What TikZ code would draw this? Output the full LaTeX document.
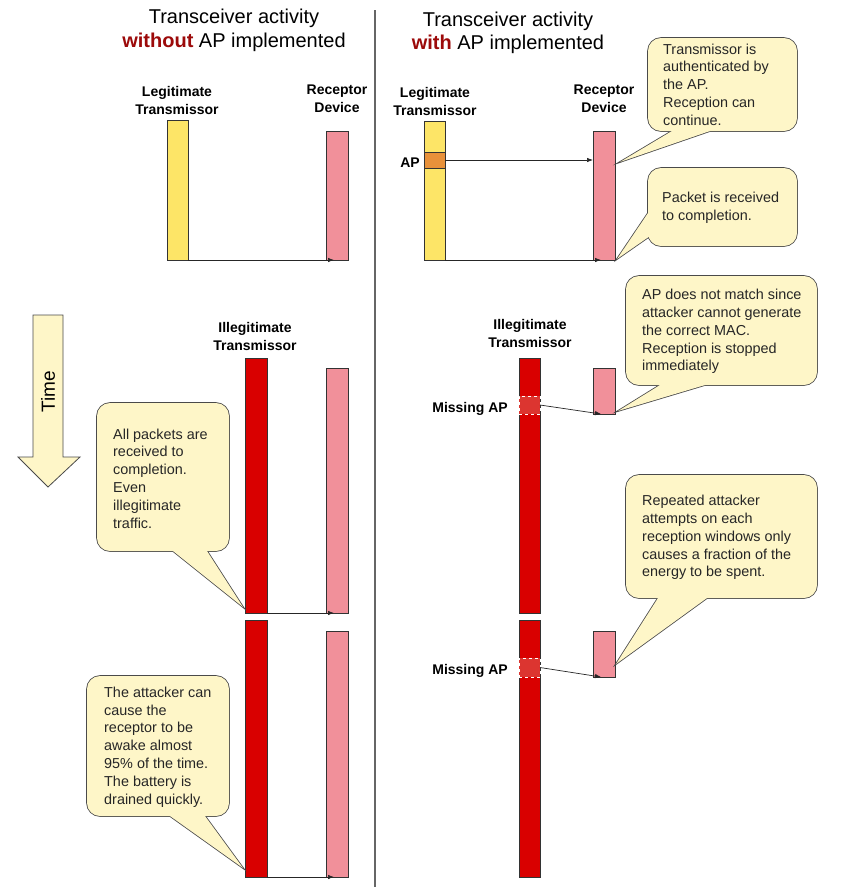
\documentclass[tikz,border=0pt]{standalone}
\usepackage{fontspec}
\setmainfont{Liberation Sans}
\usetikzlibrary{arrows.meta,calc}
\definecolor{barY}{HTML}{FDE567}
\definecolor{barP}{HTML}{F1909A}
\definecolor{barR}{HTML}{D90000}
\definecolor{apO}{HTML}{E8913A}
\definecolor{maR}{HTML}{DC3530}
\definecolor{callY}{HTML}{FEF6C8}
\definecolor{titleR}{HTML}{9C0A0A}
\definecolor{outl}{HTML}{4A4A4A}
\newcommand\DrawCallout[4]{%
  \draw[draw=outl, line width=1.6pt, rounded corners=13pt] (#1.south west) rectangle (#1.north east);
  \draw[draw=outl, line width=1.6pt, line join=miter] (#2) -- ($(#2)!1.1!(#3)$) -- ($(#2)!1.1!(#4)$) -- cycle;
  \fill[callY, rounded corners=13pt] (#1.south west) rectangle (#1.north east);
  \fill[callY] (#2) -- ($(#2)!1.1!(#3)$) -- ($(#2)!1.1!(#4)$) -- cycle;
}
\begin{document}
\begin{tikzpicture}[x=1pt,y=-1pt,
  bar/.style={draw=black!80, line width=0.6pt, inner sep=0pt, outer sep=0pt, anchor=north west},
  ybar/.style={bar, fill=barY},
  pbar/.style={bar, fill=barP},
  rbar/.style={bar, fill=barR},
  obar/.style={bar, fill=apO},
  mbar/.style={bar, draw=white, dashed, fill=maR},
  cbox/.style={draw=none, inner sep=0pt, outer sep=0pt, anchor=north west},
  lbl/.style={font=\fontsize{14}{18}\selectfont\bfseries, align=center, inner sep=0pt},
  ctext/.style={font=\fontsize{14.4}{17.8}\selectfont, align=left, inner sep=0pt, text=black!85, anchor=west},
  ttl/.style={font=\fontsize{20}{24}\selectfont, inner sep=0pt},
  conn/.style={-{Latex[length=6pt,width=4.5pt]}, draw=black!85, line width=0.7pt}]
\fill[white] (0,0) rectangle (842,887);
\useasboundingbox (0,0) rectangle (842,887);

% divider
\coordinate (dtop) at (375,10);
\coordinate (dbot) at (375,887);
\draw[black!60, line width=1.3pt] (dtop) -- (dbot);

% titles
\node[ttl, anchor=base] (tl1) at (234,23) {Transceiver activity};
\node[ttl, anchor=base] (tl2) at (234,47) {\textcolor{titleR}{\bfseries without} AP implemented};
\node[ttl, anchor=base] (tr1) at (508,26) {Transceiver activity};
\node[ttl, anchor=base] (tr2) at (508,49) {\textcolor{titleR}{\bfseries with} AP implemented};

% labels
\node[lbl] (l1) at (177,100) {Legitimate\\Transmissor};
\node[lbl] (l2) at (337,99) {Receptor\\Device};
\node[lbl] (l3) at (435,101) {Legitimate\\Transmissor};
\node[lbl] (l4) at (604,99) {Receptor\\Device};
\node[lbl] (l5) at (255,336) {Illegitimate\\Transmissor};
\node[lbl] (l6) at (530,333) {Illegitimate\\Transmissor};
\node[lbl, anchor=base east] (lap) at (420,167) {AP};
\node[lbl, anchor=base east] (lm1) at (508,412) {Missing AP};
\node[lbl, anchor=base east] (lm2) at (508,674) {Missing AP};

% time arrow
\draw[draw=outl, fill=callY, line width=0.8pt] (33,315) -- (63,315) -- (63,457) -- (80,457) -- (48,487) -- (18,457) -- (33,457) -- cycle;
\node[ttl, font=\fontsize{19}{22}\selectfont, rotate=90] (time) at (48,392) {Time};

% bars top-left
\node[ybar, minimum width=21, minimum height=140] (lt1) at (167,120) {};
\node[pbar, minimum width=22, minimum height=129] (rd1) at (326,131) {};
\draw[conn] (lt1.south east) -- ([xshift=8pt]rd1.south west);

% bars top-right
\node[ybar, minimum width=21, minimum height=139] (lt2) at (424,121) {};
\node[obar, minimum width=21, minimum height=16] (ap2) at (424,152) {};
\node[pbar, minimum width=22, minimum height=129] (rd2) at (593,131) {};
\draw[conn] (ap2.east) -- (rd2.west |- ap2.east);
\draw[conn] (lt2.south east) -- ([xshift=8pt]rd2.south west);

% bars middle-left
\node[rbar, minimum width=22, minimum height=255] (it1) at (245,358) {};
\node[pbar, minimum width=22, minimum height=245] (rp3) at (326,368) {};
\draw[conn] (it1.south east) -- ([xshift=8pt]rp3.south west);

% bars bottom-left
\node[rbar, minimum width=22, minimum height=257] (it2) at (245,620) {};
\node[pbar, minimum width=22, minimum height=246] (rp4) at (326,631) {};
\draw[conn] (it2.south east) -- ([xshift=8pt]rp4.south west);

% bars middle-right
\node[rbar, minimum width=21, minimum height=255] (it3) at (519,358) {};
\node[mbar, minimum width=21, minimum height=18] (ma3) at (519,396) {};
\node[pbar, minimum width=22, minimum height=46] (rp5) at (593,368) {};
\draw[conn] (ma3.east) -- ([xshift=8pt]rp5.south west);

% bars bottom-right
\node[rbar, minimum width=21, minimum height=257] (it4) at (519,620) {};
\node[mbar, minimum width=21, minimum height=19] (ma4) at (519,658) {};
\node[pbar, minimum width=22, minimum height=46] (rp6) at (593,631) {};
\draw[conn] (ma4.east) -- ([xshift=8pt]rp6.south west);

% callouts
\node[cbox, minimum width=149, minimum height=93] (c1) at (648,38) {};
\coordinate (t1) at (620,162); \coordinate (b1a) at (672,131); \coordinate (b1b) at (710,131);
\DrawCallout{c1}{t1}{b1a}{b1b}
\node[ctext] (x1) at (663,84.5) {Transmissor is\\authenticated by\\the AP.\\Reception can\\continue.};

\node[cbox, minimum width=149, minimum height=78] (c2) at (648,168) {};
\coordinate (t2) at (617,259); \coordinate (b2a) at (648,213); \coordinate (b2b) at (650,236);
\DrawCallout{c2}{t2}{b2a}{b2b}
\node[ctext] (x2) at (662,207.5) {Packet is received\\to completion.};

\node[cbox, minimum width=191, minimum height=109] (c3) at (626,276) {};
\coordinate (t3) at (618,411); \coordinate (b3a) at (660,385); \coordinate (b3b) at (705,385);
\DrawCallout{c3}{t3}{b3a}{b3b}
\node[ctext] (x3) at (642,331.5) {AP does not match since\\attacker cannot generate\\the correct MAC.\\Reception is stopped\\immediately};

\node[cbox, minimum width=191, minimum height=123] (c4) at (626,475) {};
\coordinate (t4) at (616,664); \coordinate (b4a) at (658,598); \coordinate (b4b) at (707,598);
\DrawCallout{c4}{t4}{b4a}{b4b}
\node[ctext] (x4) at (642,537.5) {Repeated attacker\\attempts on each\\reception windows only\\causes a fraction of the\\energy to be spent.};

\node[cbox, minimum width=132, minimum height=148] (c5) at (97,403) {};
\coordinate (t5) at (243,607); \coordinate (b5a) at (173,551); \coordinate (b5b) at (207,551);
\DrawCallout{c5}{t5}{b5a}{b5b}
\node[ctext] (x5) at (113,478.5) {All packets are\\received to\\completion.\\Even\\illegitimate\\traffic.};

\node[cbox, minimum width=142, minimum height=140] (c6) at (87,676) {};
\coordinate (t6) at (243,868); \coordinate (b6a) at (170,816); \coordinate (b6b) at (205,816);
\DrawCallout{c6}{t6}{b6a}{b6b}
\node[ctext] (x6) at (104,747) {The attacker can\\cause the\\receptor to be\\awake almost\\95\% of the time.\\The battery is\\drained quickly.};
\end{tikzpicture}
\end{document}
